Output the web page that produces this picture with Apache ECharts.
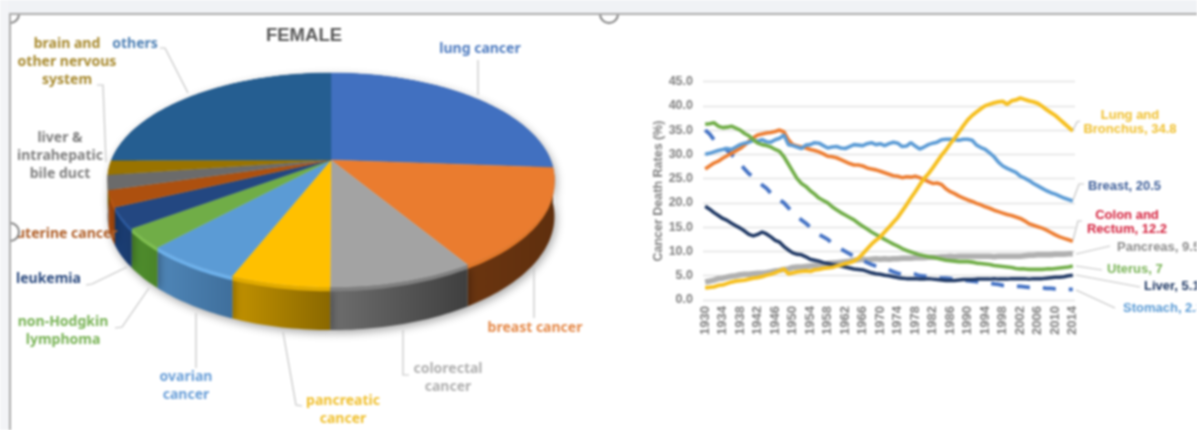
<!DOCTYPE html>
<html><head><meta charset="utf-8">
<style>html,body{margin:0;padding:0;background:#fff;overflow:hidden}#c{width:1197px;height:430px;filter:blur(0.8px)}</style>
<script src="https://cdn.jsdelivr.net/npm/echarts@6/dist/echarts.min.js"></script>
</head><body><div id="c"></div>
<script>
const years=["1930","1931","1932","1933","1934","1935","1936","1937","1938","1939","1940","1941","1942","1943","1944","1945","1946","1947","1948","1949","1950","1951","1952","1953","1954","1955","1956","1957","1958","1959","1960","1961","1962","1963","1964","1965","1966","1967","1968","1969","1970","1971","1972","1973","1974","1975","1976","1977","1978","1979","1980","1981","1982","1983","1984","1985","1986","1987","1988","1989","1990","1991","1992","1993","1994","1995","1996","1997","1998","1999","2000","2001","2002","2003","2004","2005","2006","2007","2008","2009","2010","2011","2012","2013","2014"];
const lung=[2.5,2.6,2.7,3.0,3.1,3.4,3.7,3.9,4.0,4.1,4.3,4.5,4.6,4.8,5.1,5.3,5.6,6.0,6.4,5.4,5.6,5.8,5.9,6.0,5.9,6.2,6.3,6.5,6.6,6.7,7.0,7.2,7.5,7.7,8.0,8.6,9.5,10.5,11.5,12.3,13.0,14.0,15.0,16.0,17.0,18.3,19.6,21.0,22.3,23.7,25.0,26.0,27.2,28.5,29.8,30.9,32.2,33.3,34.6,35.9,37.1,38.0,38.7,39.4,40.0,40.3,40.6,40.8,40.9,40.3,41.0,41.2,41.6,41.3,41.0,40.8,40.5,39.9,39.2,38.6,38.0,37.2,36.4,35.6,34.8];
const breast=[30.0,30.2,30.5,30.8,31.0,31.2,31.0,31.5,32.0,32.3,32.5,32.9,32.7,33.0,32.6,32.5,33.0,33.3,34.0,32.0,31.8,31.5,31.2,31.9,32.0,32.4,32.3,31.8,31.3,31.5,31.6,31.3,31.2,31.6,32.0,31.9,31.8,32.2,32.4,32.0,32.2,31.8,32.2,32.5,32.3,31.6,31.7,32.4,31.7,31.1,31.5,32.0,32.3,32.5,33.0,33.1,33.1,33.0,32.9,33.1,33.1,32.9,31.9,31.4,31.0,30.3,29.5,28.4,27.6,27.1,26.7,26.3,25.5,25.1,24.6,24.0,23.5,23.0,22.5,22.1,21.8,21.4,21.0,20.7,20.4];
const colon=[27.0,27.6,28.2,28.6,29.2,29.7,30.2,30.7,31.2,31.9,32.7,33.4,34.0,34.2,34.4,34.5,34.7,35.0,34.6,33.0,32.0,31.7,31.5,31.3,31.0,30.8,30.5,30.1,29.6,29.5,29.3,28.9,28.5,28.1,27.8,27.8,27.6,27.2,27.0,26.8,26.5,26.2,25.9,25.6,25.5,25.2,25.4,25.3,25.5,25.2,24.8,24.4,24.0,24.1,23.8,22.9,22.3,21.9,21.4,21.0,20.6,20.3,19.9,19.6,19.2,18.9,18.5,18.2,17.9,17.6,17.4,17.1,16.8,16.3,15.7,15.4,15.1,14.8,14.4,13.9,13.4,13.0,12.7,12.4,12.1];
const uterus=[36.2,36.3,36.5,35.8,35.5,35.6,35.8,35.4,35.0,34.3,33.8,33.0,32.3,32.0,31.8,31.5,31.0,30.6,29.5,28.0,26.5,25.0,24.0,23.4,22.5,21.8,21.0,20.5,20.0,19.2,18.6,18.0,17.5,17.0,16.5,15.8,15.2,14.6,14.0,13.5,13.0,12.5,12.0,11.5,11.1,10.6,10.2,9.9,9.6,9.3,9.1,8.9,8.8,8.6,8.4,8.2,8.1,8.0,7.9,7.9,7.9,7.8,7.6,7.5,7.4,7.3,7.1,7.0,6.9,6.8,6.7,6.5,6.4,6.4,6.3,6.3,6.3,6.3,6.4,6.4,6.5,6.6,6.7,6.8,7.0];
const stomach=[35.0,34.2,33.0,32.2,31.5,30.8,30.0,29.0,28.0,27.0,26.0,25.3,24.5,23.7,23.0,22.0,21.0,20.6,20.0,19.0,18.0,17.2,16.5,15.8,15.0,14.2,13.5,13.0,12.5,11.7,11.0,10.5,10.0,9.5,9.0,8.6,8.2,7.7,7.3,7.0,6.8,6.5,6.2,5.8,5.5,5.3,5.2,5.3,5.3,5.0,4.9,4.8,4.7,4.6,4.5,4.5,4.4,4.3,4.2,4.1,4.0,3.9,3.8,3.7,3.6,3.5,3.3,3.2,3.0,3.0,2.9,2.8,2.8,2.7,2.6,2.6,2.5,2.5,2.4,2.4,2.3,2.3,2.3,2.2,2.2];
const liver=[19.3,18.7,18.0,17.4,16.8,16.4,15.8,15.3,14.8,14.2,13.5,13.2,13.5,14.0,13.6,13.0,12.3,11.9,11.0,10.3,9.7,9.4,9.3,8.9,8.4,8.2,8.0,7.7,7.5,7.3,7.2,7.0,6.8,6.6,6.4,6.3,6.2,5.9,5.6,5.4,5.3,5.1,5.0,4.8,4.6,4.5,4.4,4.4,4.4,4.3,4.3,4.4,4.3,4.2,4.1,4.0,4.0,4.0,4.1,4.2,4.2,4.2,4.3,4.3,4.3,4.3,4.4,4.3,4.3,4.3,4.4,4.4,4.4,4.4,4.3,4.4,4.4,4.4,4.5,4.6,4.7,4.7,4.8,5.0,5.1];
const pancreas=[3.7,3.9,4.1,4.4,4.5,4.7,4.9,5.0,5.2,5.3,5.3,5.4,5.5,5.5,5.6,5.8,6.0,6.1,6.3,6.4,6.7,6.8,6.8,6.9,7.0,7.1,7.2,7.3,7.5,7.6,7.7,7.8,7.9,8.0,8.2,8.3,8.4,8.3,8.4,8.5,8.4,8.5,8.4,8.5,8.5,8.6,8.6,8.6,8.7,8.7,8.7,8.8,8.8,8.8,8.9,8.9,9.0,8.9,9.0,9.0,9.0,9.0,9.0,9.0,9.0,9.0,8.9,9.0,9.0,9.0,9.0,9.0,9.0,9.1,9.2,9.2,9.3,9.3,9.3,9.3,9.4,9.4,9.4,9.5,9.5];

const wedgeNames=["lung cancer","breast cancer","colorectal cancer","pancreatic cancer","ovarian cancer","non-Hodgkin lymphoma","leukemia","uterine cancer","liver & intrahepatic bile duct","brain and other nervous system","others"];
const wedgeValues=[26.1,15.1,8.8,6.0,5.9,3.0,3.1,2.5,2.2,2.2,25.0];

const topColors=["#4170c0","#ea7c2f","#a3a3a3","#ffc000","#5b9bd5","#70ad47","#234781","#ad500f","#6b6b6b","#997300","#255e91"];
const wallA=["#2f5597","#6b3510","#6e6e6e","#c29200","#4f86b8","#4f8f2d","#1a3f78","#b04f10","#555","#7a5c00","#1b466d"];
const wallB=["#2f5597","#5f2f0e","#3f3f3f","#8a6800","#3f6f9c","#4a8429","#1a3a6c","#8a3c0a","#555","#7a5c00","#1b466d"];
const rimColors=["#3a66b0","#e27829","#808080","#e0aa00","#6db0ea","#7fbf50","#2c5aa0","#c45a12","#777","#a88000","#255e91"];

const P={cx:331,cy:160,a:219.5,b:103.3,k:0.187,h:35};
function pt(th,h){const u=Math.sin(th),v=-Math.cos(th),s=1/(1-P.k*v);return [P.cx+P.a*u*s,P.cy+P.b*v*s+(h||0)*s];}
const total=wedgeValues.reduce((x,y)=>x+y,0);
function range(i){let s=0;for(let j=0;j<i;j++)s+=wedgeValues[j];return [s/total*2*Math.PI,(s+wedgeValues[i])/total*2*Math.PI];}
function arc(a0,a1,h){const n=Math.max(2,Math.ceil((a1-a0)/0.02)),o=[];for(let i=0;i<=n;i++)o.push(pt(a0+(a1-a0)*i/n,h));return o;}

function renderWall(params){
  const i=params.dataIndex,[a0,a1]=range(i);
  const pts=arc(a0,a1,0).concat(arc(a0,a1,P.h).reverse());
  return {type:'group',children:[
   {type:'polygon',shape:{points:pts},style:{
    fill:new echarts.graphic.LinearGradient(0,0,1,0,[{offset:0,color:wallA[i]},{offset:1,color:wallB[i]}]),
    shadowBlur:9,shadowColor:'rgba(0,0,0,0.35)',shadowOffsetY:3,shadowOffsetX:2}},
   {type:'polygon',z2:5,shape:{points:arc(a0,a1,0).concat(arc(a0,a1,3.5).reverse())},style:{fill:rimColors[i]}}
  ]};
}
function renderTop(params){
  const i=params.dataIndex,[a0,a1]=range(i);
  const outer=arc(a0,a1,0);
  return {type:'polygon',shape:{points:[[P.cx,P.cy]].concat(outer)},style:{fill:topColors[i],stroke:topColors[i],lineWidth:0.4}};
}

const FONT='"Noto Sans"';
const LAB='"Liberation Sans"';
// annotation layout
const pieLabels=[
 ["lung cancer",480,49,"#4f7cc0","center"],
 ["others",135,44,"#4f81b5","center"],
 ["brain and\nother nervous\nsystem",67,62,"#a88a2f","center"],
 ["liver &\nintrahepatic\nbile duct",60,156,"#7f7f7f","center"],
 ["uterine cancer",16,234,"#b0602a","left"],
 ["leukemia",16,279,"#2b4a7f","left"],
 ["non-Hodgkin\nlymphoma",63,331,"#79b356","center"],
 ["ovarian\ncancer",186,386,"#6a9fd8","center"],
 ["pancreatic\ncancer",343,410,"#f0c030","center"],
 ["colorectal\ncancer",448,378,"#b0b0b0","center"],
 ["breast cancer",535,328,"#e58a4a","center"]
];
const lineLabels=[
 ["Lung and\nBronchus, 34.8",1130,122,"#f0c030","center"],
 ["Breast, 20.5",1088,186,"#3f5f99","left"],
 ["Colon and\nRectum, 12.2",1127,222,"#d4213d","center"],
 ["Pancreas, 9.5",1117,247,"#8c8c8c","left"],
 ["Uterus, 7",1107,269,"#79b356","left"],
 ["Liver, 5.1",1144,286,"#1f3864","left"],
 ["Stomach, 2.3",1123,308,"#5b9bd5","left"]
];
const leaders=[
 [[160,48],[165,48],[188,93]],
 [[97,85],[103,85],[106,162]],
 [[86,285],[92,284],[127,267]],
 [[115,328],[122,327],[149,288]],
 [[196,313],[196,368]],
 [[283,332],[296,405],[302,406]],
 [[403,330],[403,375],[409,375]],
 [[534,267],[534,318]],
 [[478,60],[478,95]],
 [[1073,130],[1077,122],[1080,121]],
 [[1073,200],[1079,184],[1084,184]],
 [[1073,240],[1078,221],[1082,221]],
 [[1076,254],[1110,246]],
 [[1076,266],[1102,270]],
 [[1076,275],[1140,287]],
 [[1076,290],[1115,308]]
];
const graphics=[];
leaders.forEach(p=>graphics.push({type:'polyline',z:90,silent:true,shape:{points:p},style:{fill:null,stroke:'#c4c4c4',lineWidth:1.2}}));
pieLabels.forEach(l=>graphics.push({type:'text',z:100,silent:true,x:l[1],y:l[2],style:{text:l[0],fill:l[3],font:'700 14px '+FONT,lineHeight:18,textAlign:l[4],textVerticalAlign:'middle'}}));
lineLabels.forEach(l=>graphics.push({type:'text',z:100,silent:true,x:l[1],y:l[2],style:{text:l[0],fill:l[3],font:'700 13px '+LAB,lineHeight:14,textAlign:l[4],textVerticalAlign:'middle'}}));
graphics.push({type:'text',z:100,silent:true,x:304,y:36,style:{text:'FEMALE',fill:'#595959',font:'700 18.5px '+LAB,textAlign:'center',textVerticalAlign:'middle'}});
graphics.push({type:'text',z:100,silent:true,x:659,y:191,rotation:Math.PI/2,style:{text:'Cancer Death Rates (%)',fill:'#7f7f7f',font:'700 12.5px '+LAB,textAlign:'center',textVerticalAlign:'middle'}});
// window chrome
[[10,14],[10,232],[609,14]].forEach(c=>graphics.push({type:'circle',z:110,silent:true,shape:{cx:c[0],cy:c[1],r:9},style:{fill:'#fff',stroke:'#7f7f7f',lineWidth:2}}));
graphics.push({type:'rect',z:120,silent:true,shape:{x:0,y:0,width:1197,height:13},style:{fill:'#f0f2f5'}});
graphics.push({type:'rect',z:120,silent:true,shape:{x:0,y:0,width:9,height:430},style:{fill:'#f3f4f7'}});
graphics.push({type:'rect',z:121,silent:true,shape:{x:9,y:13,width:1188,height:2},style:{fill:'#ababab'}});
graphics.push({type:'rect',z:121,silent:true,shape:{x:9,y:13,width:2,height:417},style:{fill:'#ababab'}});

function ln(name,data,color,w,extra){return Object.assign({type:'line',name,data,silent:true,showSymbol:false,symbol:'none',lineStyle:{color,width:w},itemStyle:{color}},extra||{});}
const chart=echarts.init(document.getElementById('c'),null,{renderer:'canvas'});
chart.setOption({
 animation:false,backgroundColor:'#fff',
 textStyle:{fontFamily:LAB},
 grid:{left:703,right:122,top:81.5,bottom:130,containLabel:false},
 xAxis:{type:'category',data:years,boundaryGap:true,axisLine:{show:false},axisTick:{show:false},
   axisLabel:{interval:3,rotate:90,color:'#7f7f7f',fontWeight:700,fontSize:13,margin:6,fontFamily:LAB}},
 yAxis:{type:'value',min:0,max:45,interval:5,axisLine:{show:false},axisTick:{show:false},
   splitLine:{lineStyle:{color:'#e3e3e3',width:1.3}},
   axisLabel:{color:'#7f7f7f',fontWeight:700,fontSize:12.5,margin:10,fontFamily:LAB,formatter:v=>v.toFixed(1)}},
 graphic:graphics,
 series:[
  {type:'custom',coordinateSystem:'none',silent:true,z:1,data:wedgeValues.map((v,i)=>({name:wedgeNames[i],value:v})),renderItem:renderWall},
  {type:'custom',coordinateSystem:'none',silent:true,z:3,data:wedgeValues.map((v,i)=>({name:wedgeNames[i],value:v})),renderItem:renderTop},
  ln('Pancreas',pancreas,'#b0b0b0',5.5,{z:4}),
  ln('Stomach',stomach,'#4472c4',3.8,{z:5,lineStyle:{color:'#4472c4',width:3.8,type:[13,13]}}),
  ln('Liver',liver,'#1f3864',3.5,{z:6}),
  ln('Colon and Rectum',colon,'#ed7d31',3.6,{z:6}),
  ln('Breast',breast,'#5b9bd5',3.6,{z:7}),
  ln('Uterus',uterus,'#70ad47',3.6,{z:7}),
  ln('Lung and Bronchus',lung,'#f6bf1e',3.8,{z:8})
 ]
});
</script></body></html>
